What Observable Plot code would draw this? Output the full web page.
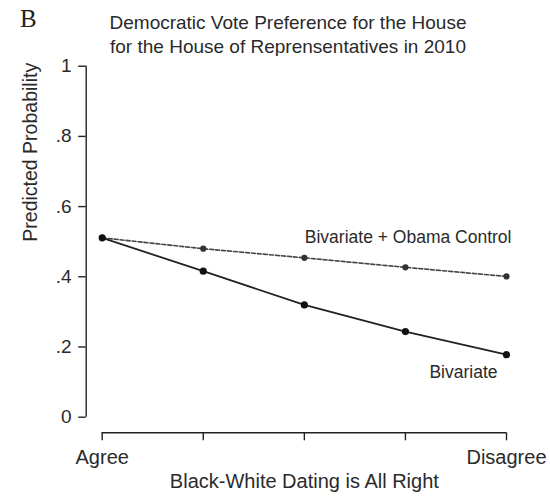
<!DOCTYPE html>
<html>
<head>
<meta charset="utf-8">
<script src="https://cdn.jsdelivr.net/npm/d3@7"></script>
<script src="https://cdn.jsdelivr.net/npm/@observablehq/plot@0.6"></script>
<style>
  html, body { margin: 0; padding: 0; background: #fff; }
  #wrap { position: relative; width: 550px; height: 502px; overflow: hidden; font-family: "Liberation Sans", Arial, sans-serif; color: #222; }
  #panel { position: absolute; left: 20px; top: 4px; font-family: "Liberation Serif", "Times New Roman", serif; font-size: 25px; line-height: 30px; color: #222; }
  #title { position: absolute; left: 88px; width: 400px; top: 11px; text-align: center; font-size: 19px; line-height: 24.3px; color: #2a2a2a; }
  #chart { position: absolute; left: 0; top: 56px; }
</style>
</head>
<body>
<div id="wrap">
  <div id="panel">B</div>
  <div id="title">Democratic Vote Preference for the House<br>for the House of Reprensentatives in 2010</div>
  <div id="chart"></div>
</div>
<script>
// ---- data ----
const xLevels = [1, 2, 3, 4, 5];
const xTickLabels = ["Agree", "", "", "", "Disagree"];
const bivariate = [0.511, 0.416, 0.320, 0.244, 0.178];
const obamaControl = [0.511, 0.480, 0.454, 0.427, 0.401];
const seriesNames = ["Bivariate", "Bivariate + Obama Control"];
const yTicks = [0, 0.2, 0.4, 0.6, 0.8, 1];
const yTickLabels = ["0", ".2", ".4", ".6", ".8", "1"];
const xTitle = "Black-White Dating is All Right";
const yTitle = "Predicted Probability";

const rowsBiv = xLevels.map((x, i) => ({x, y: bivariate[i], series: seriesNames[0]}));
const rowsObama = xLevels.map((x, i) => ({x, y: obamaControl[i], series: seriesNames[1]}));

const chart = Plot.plot({
  width: 550,
  height: 446,
  marginLeft: 101.7,
  marginRight: 44,
  marginTop: 9.7,
  marginBottom: 85.3,
  style: {fontFamily: "Liberation Sans, Arial, sans-serif", fontSize: "19px", color: "#2a2a2a", background: "white", overflow: "visible"},
  x: {domain: [xLevels[0], xLevels[xLevels.length - 1]]},
  y: {domain: [yTicks[0], yTicks[yTicks.length - 1]]},
  marks: [
    // y axis
    Plot.ruleX([xLevels[0]], {y1: yTicks[0], y2: yTicks[yTicks.length - 1], dx: -16, stroke: "#222", strokeWidth: 1.4}),
    Plot.axisY({ticks: yTicks, tickFormat: (d) => yTickLabels[yTicks.indexOf(d)], tickSize: 7.5, tickPadding: 7, dx: -16, label: null, stroke: "#222", strokeWidth: 1.4}),
    // x axis
    Plot.ruleY([yTicks[0]], {x1: xLevels[0], x2: xLevels[xLevels.length - 1], dy: 15.6, stroke: "#222", strokeWidth: 1.4}),
    Plot.axisX({ticks: xLevels, tickFormat: (d) => xTickLabels[xLevels.indexOf(d)], tickSize: 8, tickPadding: 9, dy: 15.6, label: null, stroke: "#222", strokeWidth: 1.4, fontSize: 20}),
    // axis titles
    Plot.text([xTitle], {frameAnchor: "bottom", dy: 71, fontSize: 20, fill: "#2a2a2a"}),
    Plot.text([yTitle], {frameAnchor: "left", rotate: -90, dx: -71, fontSize: 19.5, fill: "#2a2a2a"}),
    // series
    Plot.line(rowsObama, {x: "x", y: "y", stroke: "#444", strokeWidth: 1.6, strokeDasharray: "4,2"}),
    Plot.dot(rowsObama, {x: "x", y: "y", r: 3.1, fill: "#333", stroke: "none"}),
    Plot.line(rowsBiv, {x: "x", y: "y", stroke: "#222", strokeWidth: 1.8}),
    Plot.dot(rowsBiv, {x: "x", y: "y", r: 3.6, fill: "#111", stroke: "none"}),
    // series labels
    Plot.text(rowsObama.slice(-1), {x: "x", y: "y", text: "series", textAnchor: "end", dx: 5, dy: -39, fontSize: 17.5, fill: "#2a2a2a"}),
    Plot.text(rowsBiv.slice(-1), {x: "x", y: "y", text: "series", textAnchor: "end", dx: -9, dy: 18, fontSize: 17.5, fill: "#2a2a2a"})
  ]
});
document.getElementById("chart").appendChild(chart);
</script>
</body>
</html>
